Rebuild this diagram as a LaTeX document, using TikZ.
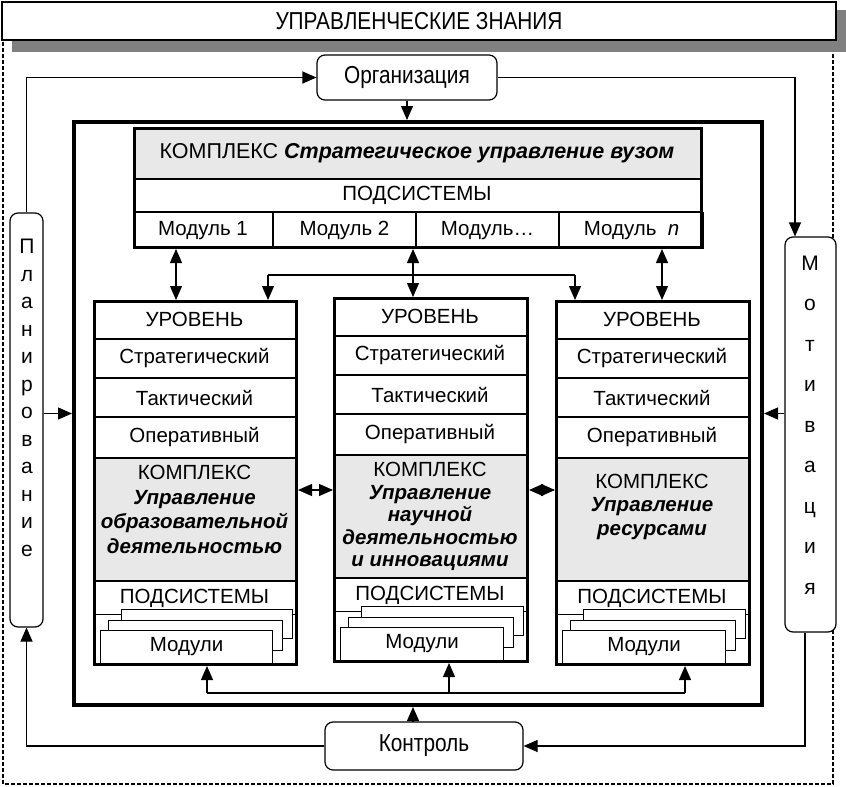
\documentclass[tikz,border=0pt]{standalone}
\usepackage{fontspec}
\setmainfont{Liberation Sans}
\newfontfamily\narrowfont{Liberation Sans}[FakeStretch=0.85]
\usetikzlibrary{arrows.meta,calc}
\definecolor{komgray}{RGB}{232,232,232}
\definecolor{shadowgray}{RGB}{128,128,128}
\newcommand\bfit[1]{\textbf{\textit{#1}}}
\tikzset{
  cell/.style={draw, line width=1pt, inner sep=0pt, anchor=north west, fill=white},
  gcell/.style={cell, fill=komgray},
  frame/.style={draw, line width=3pt, inner sep=0pt, anchor=north west},
  rbox/.style={draw, line width=1.2pt, rounded corners=8pt, fill=white, inner sep=0pt},
  conn/.style={line width=1.2pt},
  arr/.style={conn, -{Triangle[length=14pt,width=12pt]}},
  dbl/.style={conn, {Triangle[length=14pt,width=12pt]}-{Triangle[length=14pt,width=12pt]}},
}
% #1 id, #2 x, #3 y, #4 width, #5 komplex text, #6 extra options
\newcommand\lvlbox[6]{%
  \node[cell, minimum width=#4, minimum height=38] (#1lev) at (#2,#3) {УРОВЕНЬ};
  \node[cell, minimum width=#4, minimum height=38] (#1str) at (#1lev.south west) {Стратегический};
  \node[cell, minimum width=#4, minimum height=38] (#1tac) at (#1str.south west) {Тактический};
  \node[cell, minimum width=#4, minimum height=40] (#1op) at (#1tac.south west) {Оперативный};
  \node[gcell, minimum width=#4, minimum height=122, align=center, #6] (#1kom) at (#1op.south west) {#5};
  \node[cell, minimum width=#4, minimum height=33] (#1pod) at (#1kom.south west) {ПОДСИСТЕМЫ};
  \draw[line width=1pt, fill=white] (#2+28,#3+309) rectangle (#2+#4-3,#3+338);
  \draw[line width=1pt, fill=white] (#2+15,#3+320) rectangle (#2+#4-13,#3+350);
  \node[cell, minimum width=#4-30, minimum height=33] (#1m) at (#2+7,#3+330) {Модули};
  \node[frame, minimum width=#4, minimum height=363] (#1) at (#2,#3) {};
}
\begin{document}
\begin{tikzpicture}[x=1pt,y=-1pt, font=\fontsize{20.5}{24}\selectfont]
\useasboundingbox (0,0) rectangle (846,787);
% outer dashed frame
\draw[line width=1.5pt, dash pattern=on 4pt off 2pt] (3,30) rectangle (833,784);
% title with shadow
\fill[shadowgray] (12,10) rectangle (846,52);
\node[draw, line width=1.3pt, fill=white, minimum width=834, minimum height=38, inner sep=0pt,
      font=\narrowfont\fontsize{24.5}{27}\selectfont] (title) at (419,21) {УПРАВЛЕНЧЕСКИЕ ЗНАНИЯ};

% main frame
\node[draw, line width=4pt, minimum width=688, minimum height=583, inner sep=0pt, anchor=north west] (main) at (72,120) {};

% side / rounded boxes
\node[rbox, minimum width=180, minimum height=45, font=\narrowfont\fontsize{24.5}{27}\selectfont] (org) at (407,77.5) {Организация};
\node[rbox, minimum width=198, minimum height=48, font=\narrowfont\fontsize{24.5}{27}\selectfont] (kon) at (424,746) {Контроль};
\node[rbox, minimum width=33, minimum height=414] (plan) at (26.5,420) {};
\node[align=center, inner sep=0pt, font=\fontsize{21}{27.5}\selectfont] (planT) at (27,398)
  {П\\л\\а\\н\\и\\р\\о\\в\\а\\н\\и\\е};
\node[rbox, minimum width=51, minimum height=395] (motiv) at (810.5,434.5) {};
\node[align=center, inner sep=0pt, font=\fontsize{21}{40.5}\selectfont] (motivT) at (810,425)
  {М\\о\\т\\и\\в\\а\\ц\\и\\я};

% top complex
\node[gcell, minimum width=567, minimum height=51, font=\fontsize{21.5}{24}\selectfont] (tk) at (133,127) {КОМПЛЕКС \bfit{Стратегическое управление вузом}};
\node[cell, minimum width=567, minimum height=32] (tp) at (tk.south west) {ПОДСИСТЕМЫ};
\node[cell, minimum width=139, minimum height=36] (tm1) at (tp.south west) {Модуль 1};
\node[cell, minimum width=142, minimum height=36] (tm2) at (tm1.north east) {Модуль 2};
\node[cell, minimum width=142, minimum height=36] (tm3) at (tm2.north east) {Модуль…};
\node[cell, minimum width=144, minimum height=36] (tm4) at (tm3.north east) {Модуль~~\textit{n}};
\node[frame, minimum width=567, minimum height=119] (top) at (133,127) {};

% level boxes
\lvlbox{ba}{93}{300}{202}{КОМПЛЕКС\\\bfit{Управление}\\\bfit{образовательной}\\\bfit{деятельностью}\\[-4pt]\mbox{}}{font=\fontsize{20.5}{24.5}\selectfont}
\lvlbox{bb}{333}{297}{193}{КОМПЛЕКС\\\bfit{Управление}\\\bfit{научной}\\\bfit{деятельностью}\\\bfit{и инновациями}}{font=\fontsize{20.5}{22.5}\selectfont}
\lvlbox{bc}{555}{300}{193}{КОМПЛЕКС\\\bfit{Управление}\\\bfit{ресурсами}\\[6pt]\mbox{}}{font=\fontsize{20.5}{23.5}\selectfont}

% connectors: outer loop
\draw[arr] (plan.north) |- (org.west);
\coordinate (mdown) at (795,0);
\draw[arr] (org.east) -| (motiv.north -| mdown);
\coordinate (mup) at (805,0);
\draw[arr] (motiv.south -| mup) |- (kon.east);
\draw[arr] (kon.west) -| (plan.south);
\draw[arr] (org.south) -- (main.north -| org.south);
\coordinate (kup) at (413,0);
\draw[arr] (kon.north -| kup) -- (main.south -| kup);
\draw[arr] (plan.east |- main.west) -- (main.west);
\draw[arr] (motiv.west |- main.east) -- (main.east);

% top complex to level boxes
\coordinate (xa) at (176,0);
\coordinate (xc) at (662,0);
\draw[dbl] (top.south -| xa) -- (ba.north -| xa);
\draw[dbl] (top.south -| xc) -- (bc.north -| xc);
\draw[dbl] (top.south -| kup) -- (bb.north -| kup);
\coordinate (hl) at (268,275);
\coordinate (hr) at (575,275);
\draw[conn] (hl) -- (hr);
\draw[arr] (hl) -- (ba.north -| hl);
\draw[arr] (hr) -- (bc.north -| hr);

% between level boxes
\coordinate (hy) at (0,490);
\draw[dbl] (ba.east |- hy) -- (bb.west |- hy);
\draw[dbl] (bb.east |- hy) -- (bc.west |- hy);

% bottom bus to modules
\coordinate (bl) at (207,693);
\coordinate (bm) at (449,693);
\coordinate (br) at (685,693);
\draw[conn] (bl) -- (br);
\draw[arr] (bl) -- (ba.south -| bl);
\draw[arr] (bm) -- (bb.south -| bm);
\draw[arr] (br) -- (bc.south -| br);
\end{tikzpicture}
\end{document}
